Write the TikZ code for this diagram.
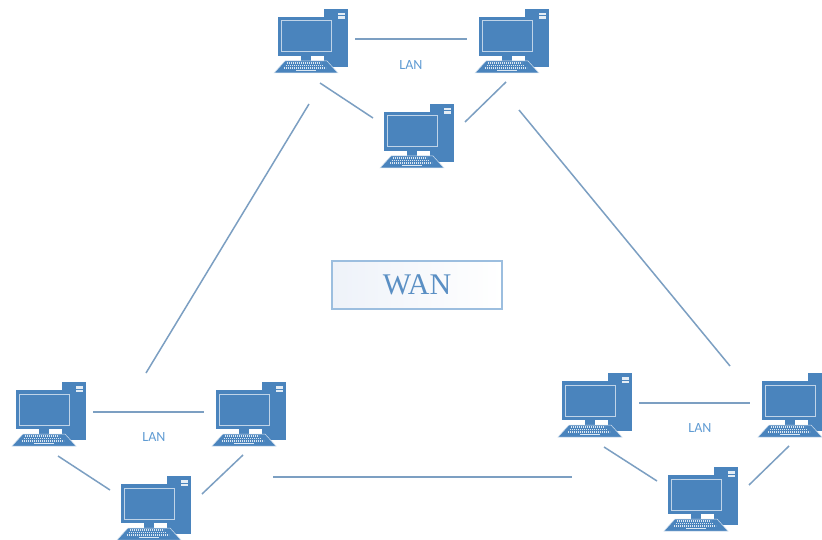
\documentclass[tikz,border=0pt]{standalone}
\usepackage{fontspec}
\setmainfont{Liberation Serif}
\setsansfont{Carlito}
\usetikzlibrary{arrows.meta,positioning}

\definecolor{pcblue}{HTML}{4A84BD}
\definecolor{linkblue}{HTML}{7C9FC2}
\definecolor{lantext}{HTML}{5F9BD3}
\definecolor{wantext}{HTML}{5A8FC4}
\definecolor{wanedge}{HTML}{9CBEDF}
\definecolor{wanshade}{HTML}{EEF2F9}

\tikzset{
    pcbox/.style={minimum width=74pt,minimum height=64pt,inner sep=0pt},
    link/.style={draw=linkblue,line width=1.5pt},
    lanlabel/.style={text=lantext,font=\sffamily\fontsize{14}{16}\selectfont},
    wanbox/.style={draw=wanedge,line width=1.1pt,left color=wanshade,right color=white,
        minimum width=170pt,minimum height=48pt,inner sep=0pt,text=wantext,
        font=\fontsize{30}{32}\selectfont},
    pics/computer/.style={code={
        \begin{scope}[shift={(-37,-32)}]
            % tower
            \fill [pcblue] (50,0) rectangle (74,58);
            \fill [white!85!pcblue] (64,4) rectangle (70.5,6.5);
            \fill [white!85!pcblue] (64,7.5) rectangle (70.5,10);
            % monitor
            \fill [pcblue] (4,8) rectangle (61,47);
            \draw [white!65!pcblue,line width=1pt] (7.5,12) rectangle (57.5,43);
            \fill [pcblue] (27,47) rectangle (37,53);
            % keyboard
            \fill [pcblue,draw=white!75!pcblue,line width=0.5pt] (11,52) -- (53,52) -- (64,64) -- (0,64) -- cycle;
            \draw [white!80!pcblue,line width=1.2pt,dash pattern=on 1.4pt off 0.6pt] (13,54) -- (47,54);
            \draw [white!80!pcblue,line width=1.2pt,dash pattern=on 1.4pt off 0.6pt] (11.5,56.5) -- (49,56.5);
            \draw [white!80!pcblue,line width=1.2pt,dash pattern=on 1.4pt off 0.6pt] (10,59) -- (52,59);
            \draw [white!80!pcblue,line width=1.4pt] (22,61.3) -- (42,61.3);
        \end{scope}
    }},
}

\begin{document}
\begin{tikzpicture}[x=1pt,y=-1pt]

    \clip (0,0) rectangle (822,540);
    \fill [white] (0,0) rectangle (822,540);

    % Computers, three for each LAN
    \foreach \pcname/\pcx/\pcy in {pcA/311/41,pcB/512/41,pcC/417/136,
        pcD/49/414,pcE/249/414,pcF/154/508,
        pcG/595/405,pcH/795/405,pcI/701/499} {
        \node [pcbox] (\pcname) at (\pcx,\pcy) {};
        \pic at (\pcname) {computer};
    }

    % Links inside each LAN
    \foreach \pcl/\pcr/\pcb in {pcA/pcB/pcC,pcD/pcE/pcF,pcG/pcH/pcI} {
        \draw [link] ([shift={(44,-2)}]\pcl.center) -- ([shift={(-45,-2)}]\pcr.center);
        \draw [link] ([shift={(9,42)}]\pcl.center) -- ([shift={(-44,-18)}]\pcb.center);
        \draw [link] ([shift={(48,-14)}]\pcb.center) -- ([shift={(-6,41)}]\pcr.center);
    }

    % LAN labels
    \node [lanlabel] (lanTop) at (411,65) {LAN};
    \node [lanlabel] (lanLeft) at (154,437) {LAN};
    \node [lanlabel] (lanRight) at (700,428) {LAN};

    % Links between the LANs
    \draw [link] ([shift={(-2,63)}]pcA.center) -- ([shift={(97,-41)}]pcD.center);
    \draw [link] ([shift={(7,69)}]pcB.center) -- ([shift={(-65,-39)}]pcH.center);
    \draw [link] ([shift={(24,63)}]pcE.center) -- ([shift={(-23,72)}]pcG.center);

    % WAN box
    \node [wanbox] (wan) at (417,285) {WAN};

\end{tikzpicture}
\end{document}
